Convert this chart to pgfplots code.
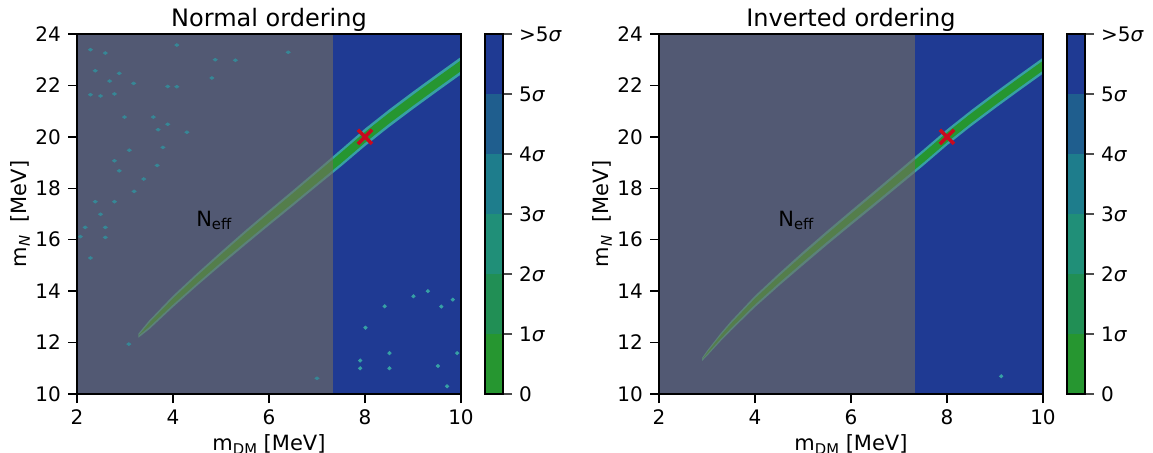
\documentclass[border=0pt]{standalone}
\usepackage{pgfplots}
\pgfplotsset{compat=1.18}
\usepgfplotslibrary{fillbetween}
\usepackage{pgfplotstable}
\usepackage{fontspec}
\setmainfont{DejaVu Sans}

\definecolor{cA}{RGB}{38,150,48}
\definecolor{cB}{RGB}{33,143,85}
\definecolor{cC}{RGB}{32,143,120}
\definecolor{cD}{RGB}{30,125,140}
\definecolor{cE}{RGB}{31,94,142}
\definecolor{cF}{RGB}{31,58,147}
\definecolor{ovl}{RGB}{116,110,94}
\definecolor{edge}{RGB}{55,160,165}
\definecolor{spk}{RGB}{55,135,150}
\definecolor{xred}{RGB}{200,10,30}

\newcommand{\sub}[1]{\raisebox{-0.3ex}{\fontsize{7.4}{8}\selectfont #1}}

% band: x, centre, outer half-width, inner half-width
\pgfplotstableread{
x c wo wi
3.28 12.27 0.08 0.00
3.5 12.68 0.17 0.08
4.0 13.60 0.22 0.12
4.5 14.45 0.24 0.14
5.0 15.27 0.26 0.15
5.5 16.07 0.28 0.17
6.0 16.85 0.29 0.18
6.5 17.62 0.30 0.19
7.0 18.40 0.31 0.20
7.5 19.18 0.33 0.21
8.0 19.98 0.34 0.21
8.5 20.72 0.34 0.21
9.0 21.42 0.34 0.21
9.5 22.10 0.34 0.21
10.0 22.77 0.34 0.21
}\bandL
\pgfplotstableread{
x c wo wi
2.90 11.35 0.06 0.00
3.0 11.58 0.10 0.03
3.28 12.20 0.15 0.07
3.5 12.65 0.18 0.09
4.0 13.60 0.22 0.12
4.5 14.45 0.24 0.13
5.0 15.27 0.26 0.14
5.5 16.07 0.27 0.15
6.0 16.85 0.28 0.16
6.5 17.62 0.29 0.17
7.0 18.40 0.30 0.18
7.5 19.18 0.31 0.19
8.0 19.98 0.31 0.19
8.5 20.72 0.31 0.19
9.0 21.42 0.31 0.19
9.5 22.10 0.31 0.19
10.0 22.77 0.31 0.19
}\bandR
% faint isolated islands, grey (excluded) region
\pgfplotstableread{
x y
2.28 23.39
2.59 23.26
4.08 23.57
4.88 23.00
5.30 22.98
6.40 23.29
2.38 22.57
2.88 22.47
2.68 22.17
3.18 22.08
4.81 22.29
3.89 21.96
4.08 21.95
2.28 21.64
2.49 21.59
2.78 21.67
2.99 20.77
3.59 20.77
3.89 20.49
3.69 20.28
4.29 20.18
3.79 19.59
3.09 19.48
2.78 19.07
2.88 18.68
3.67 18.89
3.39 18.36
3.19 17.88
2.38 17.48
2.78 17.48
2.49 16.99
2.17 16.48
2.59 16.48
2.07 16.12
2.59 16.09
2.28 15.29
3.08 11.94
7.00 10.61
}\spkLg
% islands in the blue region
\pgfplotstableread{
x y
9.01 13.80
9.31 14.00
8.41 13.41
9.59 13.40
9.83 13.67
8.01 12.58
7.90 11.30
7.90 11.00
8.51 11.59
8.51 11.00
9.52 11.09
9.92 11.59
9.71 10.30
}\spkLb
\pgfplotstableread{
x y
9.13 10.69
}\spkR

\pgfplotsset{
  mainax/.style={
    width=192pt, height=180pt, scale only axis,
    xmin=2, xmax=10, ymin=10, ymax=24,
    xtick={2,4,6,8,10}, ytick={10,12,...,24},
    tick align=outside, tick pos=left,
    major tick length=4.5pt,
    every tick/.style={black, line width=0.7pt},
    axis line style={line width=1pt},
    axis background/.style={fill=cF},
    axis on top,
    /pgf/number format/assume math mode=true,
    ticklabel style={font=\fontsize{10}{12}\selectfont},
    label style={font=\fontsize{10.5}{12}\selectfont},
    title style={font=\fontsize{12}{14}\selectfont, yshift=-8.5pt},
    xlabel={m\sub{DM} [MeV]},
    ylabel={m\sub{\itshape N}\ \ [MeV]},
    xlabel style={yshift=2pt},
    ylabel style={yshift=-4pt},
  },
  cbar/.style={
    width=9pt, height=180pt, scale only axis,
    xmin=0, xmax=1, ymin=0, ymax=6,
    xtick=\empty, ytick={0,1,...,6},
    yticklabels={0,1{\itshape σ},2{\itshape σ},3{\itshape σ},4{\itshape σ},5{\itshape σ},>5{\itshape σ}},
    ytick pos=right, yticklabel pos=right,
    tick align=outside,
    major tick length=4.5pt,
    every tick/.style={black!70, line width=0.7pt},
    axis line style={line width=1pt},
    axis on top,
    ticklabel style={font=\fontsize{10}{12}\selectfont},
  },
}

\begin{document}
\begin{tikzpicture}

% ---------- left panel ----------
\begin{axis}[mainax, at={(38.5pt,29pt)}, anchor=south west, title={Normal ordering}]
\addplot[name path=LoO, draw=none] table[x=x, y expr=\thisrow{c}-\thisrow{wo}] {\bandL};
\addplot[name path=HiO, draw=none] table[x=x, y expr=\thisrow{c}+\thisrow{wo}] {\bandL};
\addplot[edge, draw=none] fill between[of=LoO and HiO];
\addplot[name path=LoI, draw=none] table[x=x, y expr=\thisrow{c}-\thisrow{wi}] {\bandL};
\addplot[name path=HiI, draw=none] table[x=x, y expr=\thisrow{c}+\thisrow{wi}] {\bandL};
\addplot[cA, draw=none] fill between[of=LoI and HiI];
\addplot[only marks, mark=*, mark size=0.7pt, spk, mark options={xscale=1.4}] table[x=x,y=y] {\spkLg};
\addplot[only marks, mark=diamond*, mark size=0.8pt, edge, mark options={xscale=1.4}] table[x=x,y=y] {\spkLb};
\addplot[fill=ovl, fill opacity=0.6, draw=none] coordinates {(2,10) (7.333,10) (7.333,24) (2,24)} -- cycle;
\addplot[only marks, mark=x, mark size=5pt, xred, line width=1.8pt] coordinates {(8,20)};
\node[font=\fontsize{10.5}{12}\selectfont] at (axis cs:4.85,16.75) {N\sub{eff}};
\end{axis}

\begin{axis}[cbar, at={(242.5pt,29pt)}, anchor=south west]
\addplot[fill=cA, draw=none] coordinates {(0,0) (1,0) (1,1) (0,1)} -- cycle;
\addplot[fill=cB, draw=none] coordinates {(0,1) (1,1) (1,2) (0,2)} -- cycle;
\addplot[fill=cC, draw=none] coordinates {(0,2) (1,2) (1,3) (0,3)} -- cycle;
\addplot[fill=cD, draw=none] coordinates {(0,3) (1,3) (1,4) (0,4)} -- cycle;
\addplot[fill=cE, draw=none] coordinates {(0,4) (1,4) (1,5) (0,5)} -- cycle;
\addplot[fill=cF, draw=none] coordinates {(0,5) (1,5) (1,6) (0,6)} -- cycle;
\end{axis}

% ---------- right panel ----------
\begin{axis}[mainax, at={(329.5pt,29pt)}, anchor=south west, title={Inverted ordering}]
\addplot[name path=LoO, draw=none] table[x=x, y expr=\thisrow{c}-\thisrow{wo}] {\bandR};
\addplot[name path=HiO, draw=none] table[x=x, y expr=\thisrow{c}+\thisrow{wo}] {\bandR};
\addplot[edge, draw=none] fill between[of=LoO and HiO];
\addplot[name path=LoI, draw=none] table[x=x, y expr=\thisrow{c}-\thisrow{wi}] {\bandR};
\addplot[name path=HiI, draw=none] table[x=x, y expr=\thisrow{c}+\thisrow{wi}] {\bandR};
\addplot[cA, draw=none] fill between[of=LoI and HiI];
\addplot[only marks, mark=diamond*, mark size=0.8pt, edge, mark options={xscale=1.4}] table[x=x,y=y] {\spkR};
\addplot[fill=ovl, fill opacity=0.6, draw=none] coordinates {(2,10) (7.333,10) (7.333,24) (2,24)} -- cycle;
\addplot[only marks, mark=x, mark size=5pt, xred, line width=1.8pt] coordinates {(8,20)};
\node[font=\fontsize{10.5}{12}\selectfont] at (axis cs:4.85,16.75) {N\sub{eff}};
\end{axis}

\begin{axis}[cbar, at={(533.5pt,29pt)}, anchor=south west]
\addplot[fill=cA, draw=none] coordinates {(0,0) (1,0) (1,1) (0,1)} -- cycle;
\addplot[fill=cB, draw=none] coordinates {(0,1) (1,1) (1,2) (0,2)} -- cycle;
\addplot[fill=cC, draw=none] coordinates {(0,2) (1,2) (1,3) (0,3)} -- cycle;
\addplot[fill=cD, draw=none] coordinates {(0,3) (1,3) (1,4) (0,4)} -- cycle;
\addplot[fill=cE, draw=none] coordinates {(0,4) (1,4) (1,5) (0,5)} -- cycle;
\addplot[fill=cF, draw=none] coordinates {(0,5) (1,5) (1,6) (0,6)} -- cycle;
\end{axis}

\pgfresetboundingbox
\path[use as bounding box] (0pt,0pt) rectangle (576.5pt,226pt);
\end{tikzpicture}
\end{document}
